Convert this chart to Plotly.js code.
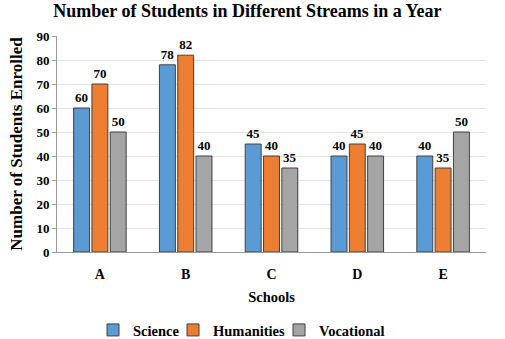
<!DOCTYPE html>
<html><head><meta charset="utf-8">
<script src="https://cdn.plot.ly/plotly-3.0.1.min.js"></script>
<style>body{margin:0;padding:0;background:#fff}#c{width:505px;height:339px}</style>
</head><body><div id="c"></div>
<script>
const schools = ["A","B","C","D","E"];
const science = [60,78,45,40,40];
const humanities = [70,82,40,45,35];
const vocational = [50,40,35,40,50];
const yTicks = [0,10,20,30,40,50,60,70,80,90];

const FAM = "Liberation Serif";
function tr(name, vals, color, leg){
  return {type:"bar", name:name, x:schools, y:vals, text:vals.map(String),
    textposition:"outside", cliponaxis:false, legend:leg,
    textfont:{family:FAM, size:13, color:"#000", weight:"bold"},
    marker:{color:color, line:{color:"#404040", width:1}}};
}
const data = [tr("Science",science,"#5B9BD5","legend"), tr("Humanities",humanities,"#ED7D31","legend2"), tr("Vocational",vocational,"#A5A5A5","legend3")];
const legFont = {family:FAM, size:14.5, color:"#000", weight:"bold"};
function leg(px){ return {orientation:"h", xref:"container", yref:"container", x:px/505, xanchor:"left", y:(339-330)/339, yanchor:"middle",
  font:legFont, itemwidth:30, bgcolor:"rgba(0,0,0,0)"}; }
const layout = {
  width:505, height:339,
  margin:{l:57, r:19, t:36, b:87, autoexpand:false},
  paper_bgcolor:"#fff", plot_bgcolor:"#fff",
  font:{family:FAM, size:13, color:"#000", weight:"bold"},
  title:{text:"Number of Students in Different Streams in a Year", x:0.49, xanchor:"center", y:0.968, yanchor:"middle",
    font:{family:FAM, size:18, color:"#000", weight:"bold"}},
  barmode:"group", bargap:0.36, bargroupgap:0.13,
  xaxis:{title:{text:"Schools", font:{family:FAM, size:14.5, weight:"bold"}, standoff:11}, showline:true, linecolor:"#999", linewidth:1,
    tickfont:{family:FAM, size:14, color:"#000", weight:"bold"}, ticks:"", ticklabelstandoff:9, automargin:false},
  yaxis:{title:{text:"Number of Students Enrolled", font:{family:FAM, size:17, weight:"bold"}, standoff:9}, range:[0,90], tickvals:yTicks,
    showgrid:true, gridcolor:"#e3e3e3", showline:true, linecolor:"#999", linewidth:1, zeroline:false,
    ticks:"outside", ticklen:4, tickcolor:"#999", automargin:false,
    tickfont:{family:FAM, size:13, color:"#000", weight:"bold"}},
  legend:leg(93), legend2:leg(173), legend3:leg(279),
  showlegend:true
};
Plotly.newPlot("c", data, layout, {displayModeBar:false, staticPlot:true});
</script></body></html>
